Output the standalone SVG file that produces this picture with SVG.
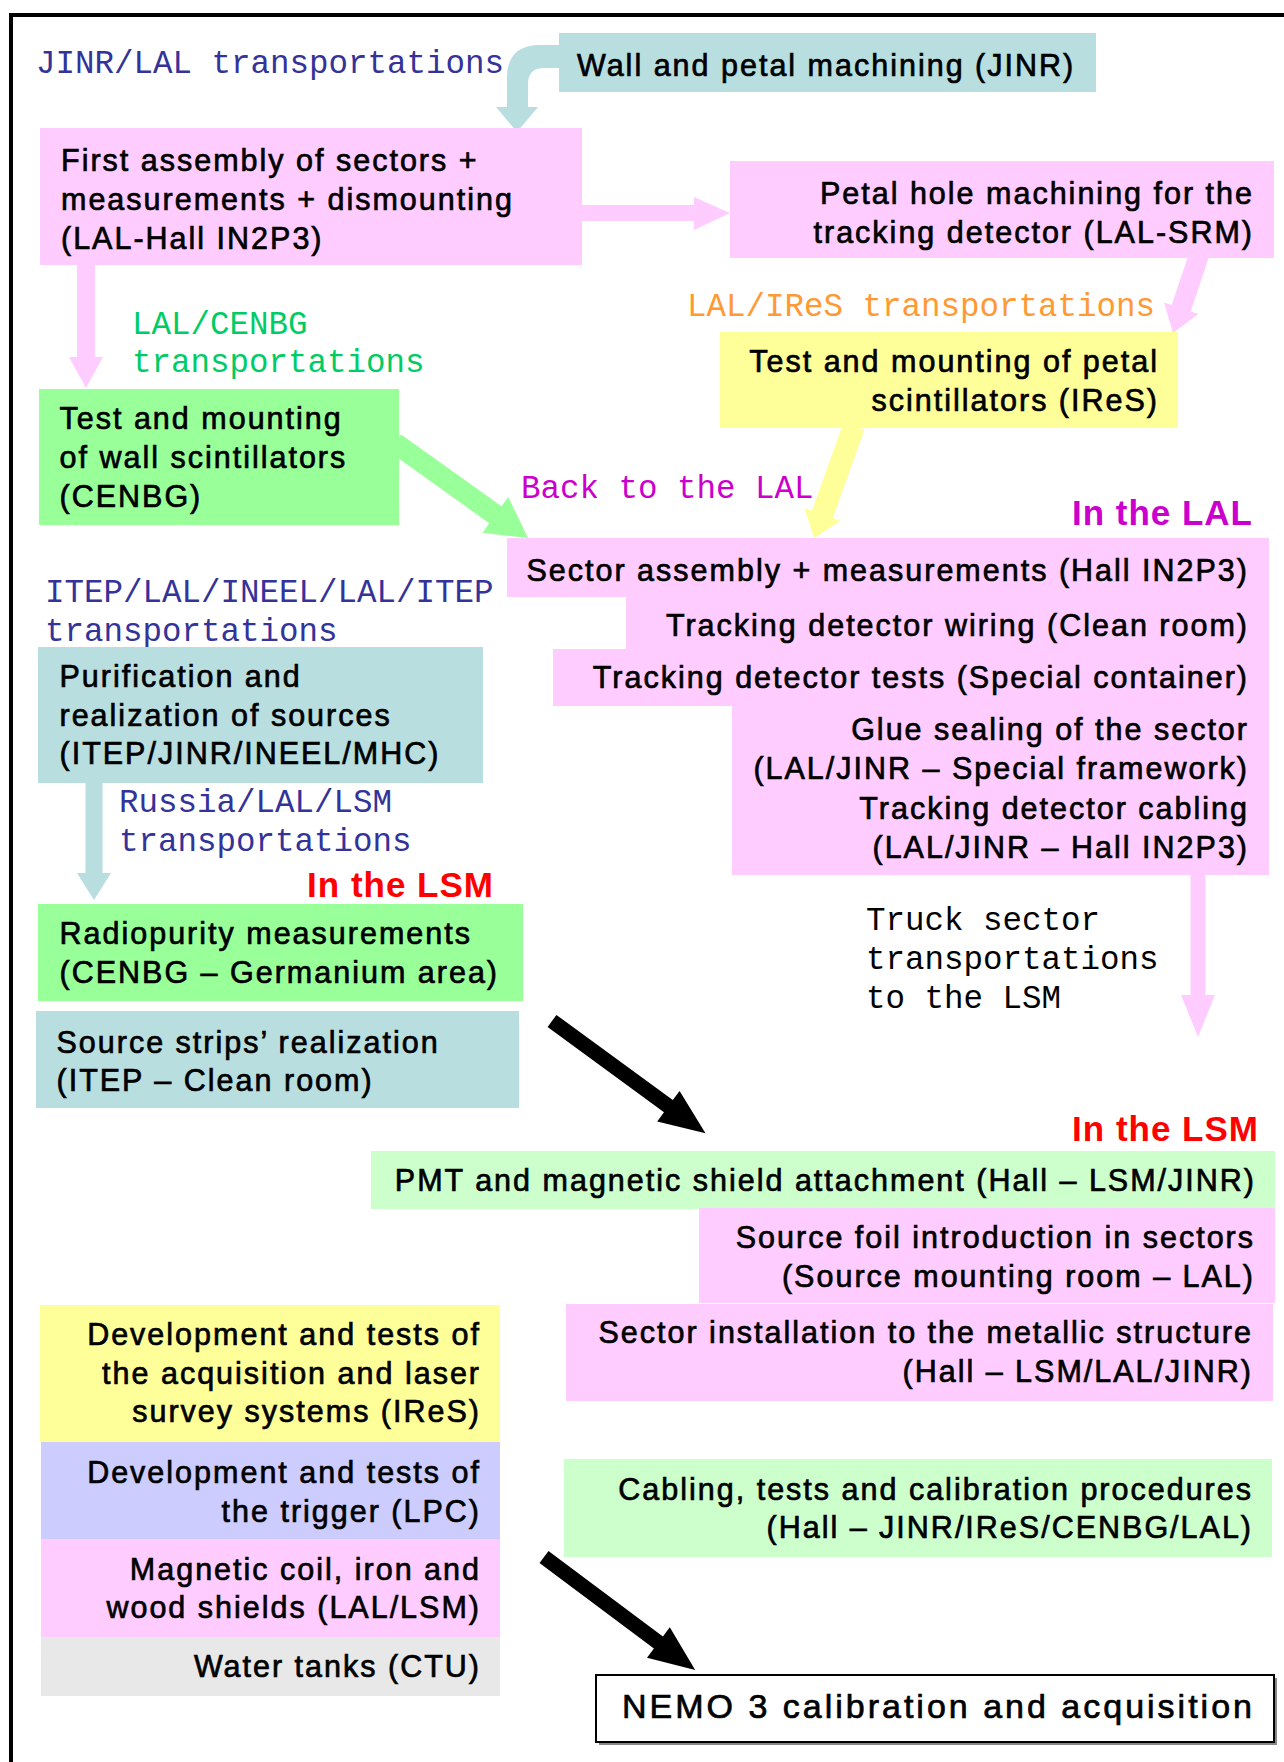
<svg xmlns="http://www.w3.org/2000/svg" width="1284" height="1762" viewBox="0 0 1284 1762">
<style>
.t{font-family:"Liberation Sans",Arial,sans-serif;font-size:30.5px;letter-spacing:2px;fill:#000;stroke:#000;stroke-width:0.7px}
.e{text-anchor:end}
.m{font-family:"Liberation Mono","Courier New",monospace;font-size:32.5px}
.blue{fill:#333399}
.h{font-family:"Liberation Sans",Arial,sans-serif;font-size:35px;font-weight:bold;letter-spacing:1px;text-anchor:end}
.pink{fill:#FFCCFF}.green{fill:#99FF99}.teal{fill:#B8DEE0}.yellow{fill:#FFFF99}.lgreen{fill:#CCFFCC}.lav{fill:#CCCCFF}.gray{fill:#E8E8E8}
</style>
<rect x="0" y="0" width="1284" height="1762" fill="#fff"/>
<path d="M11 1762 V15 H1284" stroke="#000" stroke-width="4" fill="none"/>

<g id="connectors">
  <path class="teal" d="M562 45 L540 45 Q507 45 507 78 L507 107 L496 107 L517 132 L538 107 L528 107 L528 84 Q528 68 544 68 L562 68 Z"/>
  <path class="pink" d="M580 205 H694 V197 L730 213 L694 230 V221 H580 Z"/>
  <polygon class="pink" points="1208.5,258.2 1190.7,311.5 1198.3,314 1173,333 1164.1,302.6 1171.7,305.1 1189.5,251.8"/>
  <path class="pink" d="M77 262 H95 V357 H103 L86 388 L69 357 H77 Z"/>
  <polygon class="yellow" points="864.4,429.7 832.8,518.1 840.3,520.8 814,538 804.5,508 812,510.7 843.6,422.3"/>
  <polygon class="green" points="401.1,434.5 501.5,506.3 508.2,496.9 528,538 482.6,532.7 489.3,523.3 388.9,451.5"/>
  <path class="teal" d="M85.5 783 H102.5 V873 H111 L94 900 L77 873 H85.5 Z"/>
  <path class="pink" d="M1190.5 873 H1205.5 V995 H1215 L1198 1037 L1181 995 H1190.5 Z"/>
  <polygon fill="#000" points="556.4,1014.9 672.8,1100.1 679.6,1090.9 705.5,1133.3 657.2,1121.5 664,1112.3 547.6,1027.1"/>
  <polygon fill="#000" points="548.5,1551 662.9,1636.5 669.8,1627.3 695.2,1670 647,1657.7 653.9,1648.5 539.5,1563"/>
</g>

<g id="labels">
  <text class="m blue" x="36" y="73">JINR/LAL transportations</text>
  <text class="m" fill="#00CC66" x="132" y="334">LAL/CENBG</text>
  <text class="m" fill="#00CC66" x="132" y="372">transportations</text>
  <text class="m" fill="#FF9933" x="687" y="316">LAL/IReS transportations</text>
  <text class="m" fill="#CC00CC" x="521" y="498">Back to the LAL</text>
  <text class="h" fill="#CC00CC" x="1253" y="525">In the LAL</text>
  <text class="m blue" x="45" y="602">ITEP/LAL/INEEL/LAL/ITEP</text>
  <text class="m blue" x="45" y="641">transportations</text>
  <text class="m blue" x="119" y="812">Russia/LAL/LSM</text>
  <text class="m blue" x="119" y="851">transportations</text>
  <text class="h" fill="#FF0000" x="494" y="897">In the LSM</text>
  <text class="m" fill="#000" x="866" y="930">Truck sector</text>
  <text class="m" fill="#000" x="866" y="969">transportations</text>
  <text class="m" fill="#000" x="866" y="1008">to the LSM</text>
  <text class="h" fill="#FF0000" x="1259" y="1141">In the LSM</text>
</g>

<g id="wall">
  <rect class="teal" x="559" y="33" width="537" height="59"/>
  <text class="t" x="577" y="76">Wall and petal machining (JINR)</text>
</g>
<g id="first-assembly">
  <rect class="pink" x="40" y="128" width="542" height="137"/>
  <text class="t" x="61" y="171">First assembly of sectors +</text>
  <text class="t" x="61" y="210">measurements + dismounting</text>
  <text class="t" x="61" y="249">(LAL-Hall IN2P3)</text>
</g>
<g id="petal-hole">
  <rect class="pink" x="730" y="161" width="544" height="97"/>
  <text class="t e" x="1254" y="204">Petal hole machining for the</text>
  <text class="t e" x="1254" y="243">tracking detector (LAL-SRM)</text>
</g>
<g id="petal-scint">
  <rect class="yellow" x="720" y="332" width="458" height="96"/>
  <text class="t e" x="1159" y="372">Test and mounting of petal</text>
  <text class="t e" x="1159" y="411">scintillators (IReS)</text>
</g>
<g id="wall-scint">
  <rect class="green" x="39" y="389" width="360" height="136"/>
  <text class="t" x="59.5" y="429">Test and mounting</text>
  <text class="t" x="59.5" y="468">of wall scintillators</text>
  <text class="t" x="59.5" y="507">(CENBG)</text>
</g>
<g id="sector-lal">
  <path class="pink" d="M507 538 H1269 V875 H732 V706 H553 V649 H626 V597 H507 Z"/>
  <text class="t e" x="1249" y="581">Sector assembly + measurements (Hall IN2P3)</text>
  <text class="t e" x="1249" y="636">Tracking detector wiring (Clean room)</text>
  <text class="t e" x="1249" y="688">Tracking detector tests (Special container)</text>
  <text class="t e" x="1249" y="740">Glue sealing of the sector</text>
  <text class="t e" x="1249" y="779">(LAL/JINR – Special framework)</text>
  <text class="t e" x="1249" y="819">Tracking detector cabling</text>
  <text class="t e" x="1249" y="858">(LAL/JINR – Hall IN2P3)</text>
</g>
<g id="purification">
  <rect class="teal" x="38" y="647" width="445" height="136"/>
  <text class="t" x="59.5" y="687">Purification and</text>
  <text class="t" x="59.5" y="726">realization of sources</text>
  <text class="t" x="59.5" y="764">(ITEP/JINR/INEEL/MHC)</text>
</g>
<g id="radiopurity">
  <rect class="green" x="38" y="904" width="485" height="97"/>
  <text class="t" x="59.5" y="944">Radiopurity measurements</text>
  <text class="t" x="59.5" y="983">(CENBG – Germanium area)</text>
</g>
<g id="source-strips">
  <rect class="teal" x="36" y="1011" width="483" height="97"/>
  <text class="t" x="56.5" y="1053">Source strips’ realization</text>
  <text class="t" x="56.5" y="1091">(ITEP – Clean room)</text>
</g>
<g id="pmt">
  <rect class="lgreen" x="371" y="1151" width="904" height="58"/>
  <text class="t e" x="1256" y="1191">PMT and magnetic shield attachment (Hall – LSM/JINR)</text>
</g>
<g id="source-foil">
  <rect class="pink" x="699" y="1208" width="576" height="95"/>
  <text class="t e" x="1255" y="1248">Source foil introduction in sectors</text>
  <text class="t e" x="1255" y="1287">(Source mounting room – LAL)</text>
</g>
<g id="sector-install">
  <rect class="pink" x="566" y="1304" width="707" height="97"/>
  <text class="t e" x="1253" y="1343">Sector installation to the metallic structure</text>
  <text class="t e" x="1253" y="1382">(Hall – LSM/LAL/JINR)</text>
</g>
<g id="acquisition-laser">
  <rect class="yellow" x="40" y="1305" width="460" height="137"/>
  <text class="t e" x="481" y="1345">Development and tests of</text>
  <text class="t e" x="481" y="1384">the acquisition and laser</text>
  <text class="t e" x="481" y="1422">survey systems (IReS)</text>
</g>
<g id="trigger">
  <rect class="lav" x="41" y="1442" width="459" height="97"/>
  <text class="t e" x="481" y="1483">Development and tests of</text>
  <text class="t e" x="481" y="1522">the trigger (LPC)</text>
</g>
<g id="magnetic">
  <rect class="pink" x="41" y="1539" width="459" height="98"/>
  <text class="t e" x="481" y="1580">Magnetic coil, iron and</text>
  <text class="t e" x="481" y="1618">wood shields (LAL/LSM)</text>
</g>
<g id="water">
  <rect class="gray" x="41" y="1637" width="459" height="59"/>
  <text class="t e" x="481" y="1677">Water tanks (CTU)</text>
</g>
<g id="cabling">
  <rect class="lgreen" x="564" y="1459" width="708" height="98"/>
  <text class="t e" x="1253" y="1500">Cabling, tests and calibration procedures</text>
  <text class="t e" x="1253" y="1538">(Hall – JINR/IReS/CENBG/LAL)</text>
</g>
<g id="nemo">
  <rect x="599" y="1678" width="678" height="67" fill="#888"/>
  <rect x="596" y="1675" width="678" height="67" fill="#fff" stroke="#000" stroke-width="2"/>
  <text class="t e" style="font-size:34px;letter-spacing:3px" x="1255" y="1718">NEMO 3 calibration and acquisition</text>
</g>
</svg>
